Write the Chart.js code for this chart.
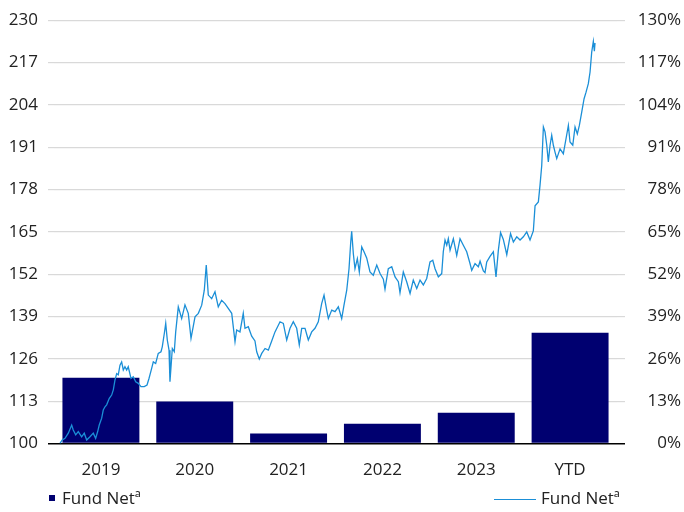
<!DOCTYPE html>
<html>
<head>
<meta charset="utf-8">
<script src="https://cdn.jsdelivr.net/npm/chart.js@4/dist/chart.umd.min.js"></script>
<style>
  html, body { margin: 0; padding: 0; background: #fff; }
  #wrap { position: relative; width: 684px; height: 512px; }
  .leg { position: absolute; top: 486px; font: 17px "Open Sans", sans-serif; color: #222; white-space: nowrap; }
  .leg .sq { display: inline-block; width: 6px; height: 6px; background: #000070; margin-right: 7px; vertical-align: middle; position: relative; top: -1px; }
  .leg .ln { display: inline-block; width: 42px; height: 1.5px; background: #1b8fd7; margin-right: 5px; vertical-align: middle; }
</style>
</head>
<body>
<div id="wrap">
  <canvas id="chart" width="684" height="512"></canvas>
  <div class="leg" style="left:49px"><span class="sq"></span>Fund Netª</div>
  <div class="leg" style="left:494px"><span class="ln"></span>Fund Netª</div>
</div>
<script>
// Calendar-year returns (%), right axis
const years = ['2019', '2020', '2021', '2022', '2023', 'YTD'];
const annualReturns = [20.2, 12.9, 3.1, 6.1, 9.5, 34.0];

// Growth of 100, left axis (month offset from start of 2019, index value)
const lineMonths = [0, 0.29, 0.64, 1.06, 1.49, 1.69, 2.0, 2.33, 2.76, 3.09, 3.40, 3.82, 4.24, 4.54, 4.80, 5.0,
  5.31, 5.51, 5.73, 5.94, 6.28, 6.58, 6.79, 7.0, 7.22, 7.42, 7.64, 7.85, 8.06, 8.27, 8.49, 8.69, 9.04, 9.33,
  9.64, 9.97, 10.31, 10.73, 11.08, 11.33, 11.67, 11.88, 12.18, 12.51, 12.86, 13.02, 13.28, 13.46, 13.66, 13.88,
  14.0, 14.3, 14.55, 14.73, 15.06, 15.49, 15.91, 16.33, 16.68, 17.19, 17.61, 18.04, 18.37, 18.62, 18.88, 19.31,
  19.73, 20.15, 20.58, 21.0, 21.42, 21.86, 22.28, 22.49, 22.91, 23.33, 23.55, 23.97, 24.4, 24.82, 25.04, 25.37,
  25.68, 26.1, 26.52, 26.95, 27.37, 28.01, 28.43, 28.86, 29.28, 29.7, 30.13, 30.46, 30.77, 31.19, 31.61, 32.04,
  32.46, 32.88, 33.31, 33.61, 33.95, 34.16, 34.59, 35.01, 35.43, 35.86, 36.15, 36.5, 36.79, 37.01, 37.13, 37.34,
  37.55, 37.85, 38.1, 38.41, 38.7, 39.04, 39.46, 39.88, 40.32, 40.74, 41.16, 41.37, 41.79, 42.23, 42.65, 43.07,
  43.28, 43.7, 44.13, 44.56, 44.97, 45.41, 45.83, 46.25, 46.68, 47.1, 47.45, 47.74, 48.16, 48.59, 48.79, 49.01,
  49.23, 49.43, 49.65, 50.07, 50.5, 50.92, 51.34, 51.77, 52.19, 52.41, 52.83, 53.25, 53.47, 53.89, 54.1, 54.32,
  54.74, 55.16, 55.5, 55.8, 56.08, 56.43, 56.87, 57.35, 57.71, 58.14, 58.56, 58.98, 59.41, 59.83, 60.25, 60.47,
  60.89, 61.1, 61.32, 61.53, 61.74, 61.96, 62.16, 62.38, 62.59, 62.8, 63.01, 63.23, 63.65, 64.07, 64.41, 64.71,
  64.92, 65.27, 65.56, 65.85, 66.11, 66.41, 66.71, 66.96, 67.25, 67.47, 67.68, 67.89, 68.02, 68.1];
const lineValues = [100.1, 101.1, 101.6, 103.2, 105.7, 104.2, 102.7, 103.7, 102.1, 103.2, 101.1, 102.1, 103.2, 101.6, 103.7, 105.7,
  107.8, 110.3, 111.3, 111.9, 113.9, 114.9, 116.5, 119.5, 121.5, 121.1, 124.1, 125.1, 122.6, 123.6, 122.6, 123.6, 120, 120.5,
  119, 118.5, 117.5, 117.5, 118, 120, 123.1, 125.1, 124.6, 127.7, 128.2, 129.7, 133.8, 136.9, 131.8, 128.7,
  119, 129.2, 128.2, 134.3, 142, 138.4, 142.6, 140, 132.3, 138.9, 140, 142.5, 147.1, 154.8, 145.6, 144.5,
  146.6, 142, 144, 143, 141.5, 140, 131.3, 134.9, 134.3, 140, 135.4, 135.9, 133, 131.5, 128.2, 126,
  127.7, 129.2, 128.7, 131.5, 134.3, 137.4, 136.9, 131.8, 135.4, 137.4, 135.4, 130.3, 135.4, 135.4, 131.8, 134.3,
  135.4, 137.4, 143, 145.6, 141, 138.4, 141, 140.5, 142, 138.4, 142.5, 147.1, 153.7, 161.9, 165.2, 158.3,
  153.7, 156.8, 152.7, 160.4, 158.9, 157, 152.7, 151.7, 154.8, 152.2, 150.5, 147.4, 153.7, 154.3, 151.2, 149.7,
  146.3, 152.7, 149.7, 146.1, 150.2, 147.6, 150.2, 148.7, 150.7, 155.8, 156.3, 153.7, 151.2, 152.2, 158.9, 162.5,
  160.9, 162.9, 159.4, 162.9, 157.8, 162.9, 160.9, 158.9, 155.3, 153.2, 155.3, 154.3, 156, 153, 152.5, 155.8,
  157.5, 158.9, 151.2, 159.4, 164.8, 162.7, 158, 164.5, 161.9, 163.5, 162.5, 163.5, 165, 162.5, 165.3, 173,
  174.2, 179.3, 185.4, 197.2, 195.7, 191.6, 186.5, 191.6, 194.7, 191.6, 189.5, 187.5, 190.5, 189, 193.6, 197.7,
  192.6, 191.6, 197.2, 195.1, 197.7, 201.8, 205.9, 207.9, 210.5, 214.1, 220.2, 223.5, 220.5, 223];

const indexMin = 100, indexMax = 230, indexStep = 13;
const pctMin = 0, pctMax = 130;

const fontSpec = { family: '"Open Sans", sans-serif', size: 17 };
const gridGray = '#d9d9d9';
const textColor = '#222';

const ctx = document.getElementById('chart').getContext('2d');
new Chart(ctx, {
    data: {
        labels: years,
        datasets: [
            {
                type: 'line',
                label: 'Fund Netª',
                data: lineMonths.map((m, i) => ({ x: m, y: lineValues[i] })),
                xAxisID: 'x2',
                yAxisID: 'y',
                borderColor: '#1b8fd7',
                borderWidth: 1.3,
                pointRadius: 0,
                tension: 0,
                order: 0
            },
            {
                type: 'bar',
                label: 'Fund Netª',
                data: annualReturns,
                xAxisID: 'x',
                yAxisID: 'y1',
                backgroundColor: '#000070',
                grouped: false,
                barPercentage: 0.82,
                categoryPercentage: 1,
                order: 1
            }
        ]
    },
    options: {
        responsive: false,
        animation: false,
        layout: { padding: { top: 8, right: 3, bottom: 24, left: 0 } },
        plugins: { legend: { display: false }, tooltip: { enabled: false } },
        scales: {
            x: {
                type: 'category',
                offset: true,
                grid: { display: false },
                border: { display: false },
                ticks: { color: textColor, font: fontSpec, padding: 8 }
            },
            x2: {
                type: 'linear',
                display: false,
                min: -0.76,
                max: 70.9
            },
            y: {
                position: 'left',
                min: indexMin,
                max: indexMax,
                border: { display: false },
                grid: {
                    color: c => c.tick.value === indexMin ? '#000' : gridGray,
                    lineWidth: c => c.tick.value === indexMin ? 1.5 : 1.2,
                    tickLength: 6
                },
                ticks: { stepSize: indexStep, color: textColor, font: fontSpec, padding: 10 },
                afterFit: s => { s.width = 54; }
            },
            y1: {
                position: 'right',
                min: pctMin,
                max: pctMax,
                border: { display: false },
                grid: {
                    drawOnChartArea: false,
                    color: c => c.tick.value === pctMin ? '#000' : gridGray,
                    lineWidth: c => c.tick.value === pctMin ? 1.5 : 1.2,
                    tickLength: 8
                },
                ticks: {
                    stepSize: indexStep,
                    color: textColor,
                    font: fontSpec,
                    crossAlign: 'far',
                    callback: v => v + '%'
                },
                afterFit: s => { s.width = 64; }
            }
        }
    }
});
</script>
</body>
</html>
